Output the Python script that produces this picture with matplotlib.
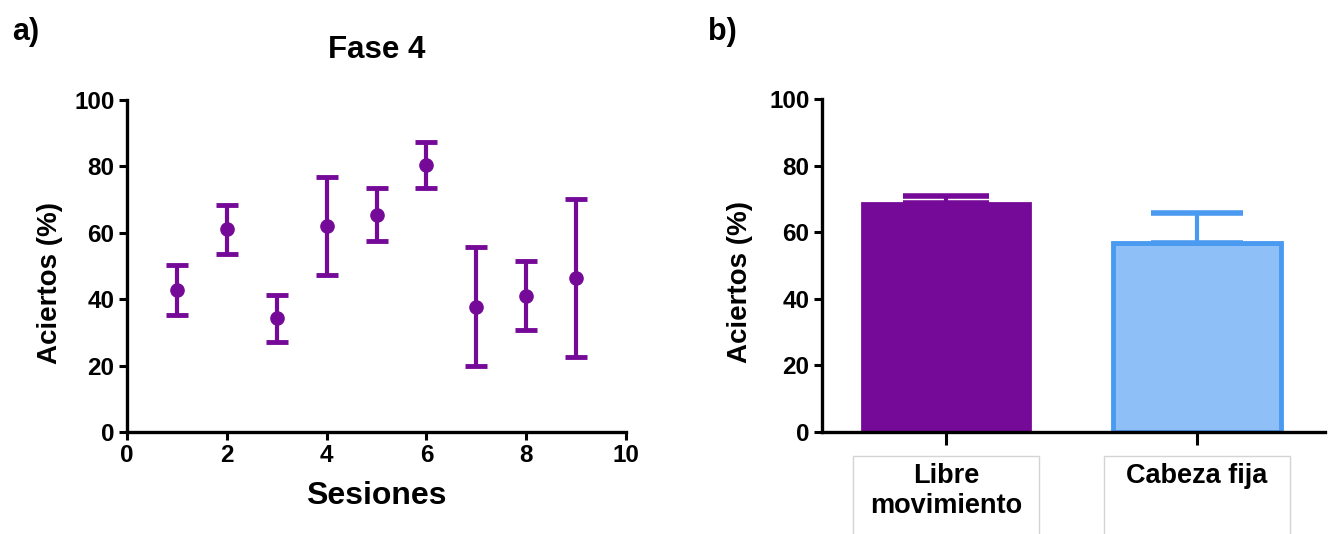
import matplotlib
matplotlib.use("Agg")
import matplotlib.pyplot as plt
from matplotlib.patches import Rectangle
import numpy as np

# ---- data ----
sessions = [1, 2, 3, 4, 5, 6, 7, 8, 9]
mean_pct = [42.8, 61.0, 34.2, 62.0, 65.4, 80.4, 37.7, 41.1, 46.3]
err_pct = [7.6, 7.3, 7.0, 14.7, 8.0, 6.9, 17.9, 10.3, 23.8]

groups = ["Libre\nmovimiento", "Cabeza fija"]
group_mean = [68.7, 56.9]
group_err = [2.1, 9.0]

purple = "#760a98"
blue_face = "#8fbff7"
blue_edge = "#4a9af0"

plt.rcParams['font.family'] = ['Liberation Sans', 'DejaVu Sans']
plt.rcParams['font.weight'] = 'bold'

fig = plt.figure(figsize=(13.3, 5.34), dpi=100)
W, H = 1330, 534

def pos(x0, x1, ytop, ybot):
    return [x0 / W, 1 - ybot / H, (x1 - x0) / W, (ybot - ytop) / H]

ax1 = fig.add_axes(pos(127, 626, 100, 432))
ax2 = fig.add_axes(pos(822, 1325, 99, 432))

def style(ax):
    for s in ["top", "right"]:
        ax.spines[s].set_visible(False)
    for s in ["left", "bottom"]:
        ax.spines[s].set_linewidth(2.4)
        ax.spines[s].set_color("black")
    ax.tick_params(width=2.2, length=6, labelsize=17.5, direction="out", pad=3)
    for lab in ax.get_xticklabels() + ax.get_yticklabels():
        lab.set_fontweight("bold")

# ---- panel a ----
ax1.errorbar(sessions, mean_pct, yerr=err_pct, fmt="o", color=purple,
             ecolor=purple, elinewidth=3, capsize=8, capthick=3.5,
             markersize=9.5)
ax1.set_xlim(0, 10)
ax1.set_ylim(0, 100)
ax1.set_xticks([0, 2, 4, 6, 8, 10])
ax1.set_yticks([0, 20, 40, 60, 80, 100])
style(ax1)
ax1.set_xlabel("Sesiones", fontsize=23, fontweight="bold", labelpad=10)
ax1.set_ylabel("Aciertos (%)", fontsize=20, fontweight="bold")
ax1.yaxis.set_label_coords(-0.128, 0.45)
ax1.set_title("Fase 4", fontsize=22.5, fontweight="bold", pad=30)

# ---- panel b ----
xpos = np.arange(len(groups))
ax2.bar(xpos[0], group_mean[0], width=0.67, color=purple, edgecolor=purple,
        linewidth=2)
ax2.bar(xpos[1], group_mean[1], width=0.67, color=blue_face, edgecolor=blue_edge,
        linewidth=3.5)
ax2.errorbar(xpos[0], group_mean[0], yerr=[[0], [group_err[0]]], fmt="none",
             ecolor=purple, elinewidth=3, capsize=31, capthick=4)
ax2.errorbar(xpos[1], group_mean[1], yerr=[[0], [group_err[1]]], fmt="none",
             ecolor=blue_edge, elinewidth=3, capsize=33, capthick=4)
ax2.set_xlim(-0.494, 1.51)
ax2.set_ylim(0, 100)
ax2.set_xticks(xpos)
ax2.set_xticklabels([])
ax2.set_yticks([0, 20, 40, 60, 80, 100])
style(ax2)
ax2.tick_params(axis="x", length=9)
ax2.set_ylabel("Aciertos (%)", fontsize=20, fontweight="bold")
ax2.yaxis.set_label_coords(-0.138, 0.45)

trans = ax2.get_xaxis_transform()
for i, g in enumerate(groups):
    ax2.add_patch(Rectangle((xpos[i] - 0.37, -0.31), 0.74, 0.238,
                            transform=trans, clip_on=False, fill=False,
                            edgecolor="#d4d4d4", linewidth=1))
    ax2.text(xpos[i], -0.092, g, transform=trans, ha="center", va="top",
             fontsize=19.5, fontweight="bold", linespacing=1.2)

fig.text(12 / W, 1 - 32 / H, "a)", fontsize=22, fontweight="bold", va="center")
fig.text(708 / W, 1 - 32 / H, "b)", fontsize=22, fontweight="bold", va="center")

fig.savefig("out.png", dpi=100)
